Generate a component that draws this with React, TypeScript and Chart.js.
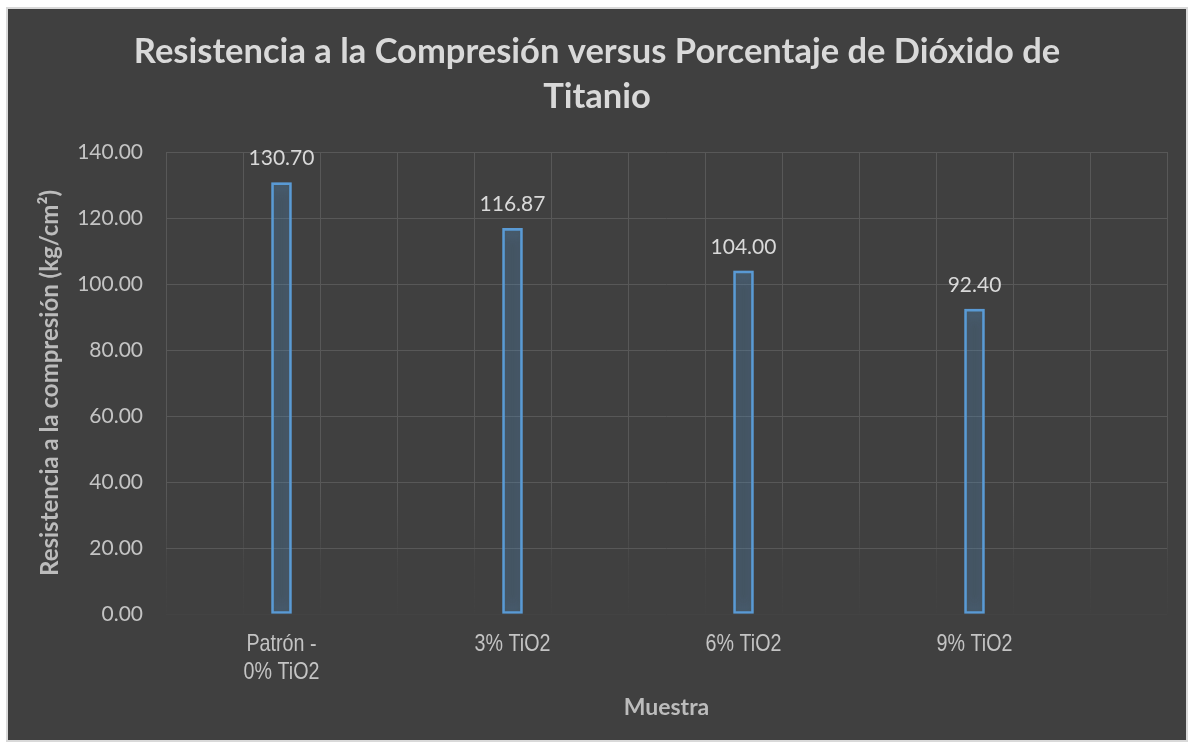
import React, { useEffect, useRef } from 'react';
import { Chart, registerables, Plugin } from 'chart.js';

Chart.register(...registerables);

// Samples on the category axis (multi-line labels are arrays)
const categories: (string | string[])[] = [['Patrón -', '0% TiO2'], '3% TiO2', '6% TiO2', '9% TiO2'];
// Compressive strength, kg/cm²
const values = [130.7, 116.87, 104.0, 92.4];
// Value axis range and step
const yMin = 0;
const yMax = 140;
const yStep = 20;

const titleLines = ['Resistencia a la Compresión versus Porcentaje de Dióxido de', 'Titanio'];
const xTitle = 'Muestra';
const yTitle = 'Resistencia a la compresión (kg/cm²)';

// The horizontal axis is split into 13 narrow slots; each sample sits in every third slot.
const SLOT_COUNT = 13;
const SLOT_FIRST = 1;
const SLOT_STRIDE = 3;

const CANVAS_W = 1178;
const CANVAS_H = 731;

const BAR_BLUE = '#5b9bd5';
const GRID = '#585858';
const TEXT_MAIN = '#d9d9d9';
const TEXT_TICK = '#c4c4c4';
const TEXT_AXIS = '#bcbcbc';
const SANS = 'Lato, "Open Sans", sans-serif';

// Soft blue halo around the bar outlines
const glowPlugin: Plugin<'bar'> = {
  id: 'barGlow',
  beforeDatasetDraw(chart) {
    const ctx = chart.ctx;
    ctx.save();
    ctx.shadowColor = 'rgba(91,155,213,1)';
    ctx.shadowBlur = 14;
  },
  afterDatasetDraw(chart) {
    chart.ctx.restore();
  },
};

// Value printed above each bar
const valueLabelPlugin: Plugin<'bar'> = {
  id: 'valueLabels',
  afterDatasetsDraw(chart) {
    const ctx = chart.ctx;
    const meta = chart.getDatasetMeta(0);
    const ds = chart.data.datasets[0].data as (number | null)[];
    ctx.save();
    ctx.font = `21px ${SANS}`;
    ctx.fillStyle = TEXT_MAIN;
    ctx.textAlign = 'center';
    ctx.textBaseline = 'middle';
    meta.data.forEach((el, i) => {
      const v = ds[i];
      if (v === null || v === undefined) return;
      const { x, y } = el.getProps(['x', 'y'], true) as { x: number; y: number };
      ctx.fillText(v.toFixed(2), x, y - 24);
    });
    ctx.restore();
  },
};

// Category labels in a narrow sans face, placed at the x scale's tick pixels
const narrowTickPlugin: Plugin<'bar'> = {
  id: 'narrowTicks',
  afterDraw(chart) {
    const scale = chart.scales.x;
    const ctx = chart.ctx;
    const labels = chart.data.labels as (string | string[])[];
    ctx.save();
    ctx.font = '24px "Liberation Sans", Arial, sans-serif';
    ctx.fillStyle = TEXT_TICK;
    ctx.textAlign = 'center';
    ctx.textBaseline = 'middle';
    labels.forEach((label, i) => {
      const lines = Array.isArray(label) ? label : [label];
      const x = scale.getPixelForTick(i);
      lines.forEach((line, j) => {
        if (!line) return;
        ctx.save();
        ctx.translate(x, scale.top + 30 + j * 28);
        ctx.scale(0.82, 1);
        ctx.fillText(line, 0, 0);
        ctx.restore();
      });
    });
    ctx.restore();
  },
};

export default function App() {
  const canvasRef = useRef<HTMLCanvasElement>(null);

  useEffect(() => {
    const canvas = canvasRef.current;
    if (!canvas) return;

    const labels: (string | string[])[] = Array.from({ length: SLOT_COUNT }, () => '');
    const data: (number | null)[] = Array.from({ length: SLOT_COUNT }, () => null);
    categories.forEach((c, i) => {
      const slot = SLOT_FIRST + i * SLOT_STRIDE;
      labels[slot] = c;
      data[slot] = values[i];
    });

    // Vertical grid lines fade out towards the baseline
    const fadingGrid = (chart: Chart) => {
      const area = chart.chartArea;
      if (!area) return GRID;
      const g = chart.ctx.createLinearGradient(0, area.top, 0, area.bottom);
      g.addColorStop(0, GRID);
      g.addColorStop(0.74, GRID);
      g.addColorStop(0.9, 'rgba(88,88,88,0.2)');
      g.addColorStop(1, 'rgba(88,88,88,0.05)');
      return g;
    };

    const chart = new Chart(canvas, {
      type: 'bar',
      data: {
        labels,
        datasets: [
          {
            data,
            backgroundColor: 'rgba(91,155,213,0.07)',
            borderColor: BAR_BLUE,
            borderWidth: 2,
            borderSkipped: false,
            barThickness: 20,
          },
        ],
      },
      options: {
        animation: false,
        responsive: false,
        maintainAspectRatio: false,
        layout: { padding: { left: 19, right: 19, top: 0, bottom: 0 } },
        plugins: {
          legend: { display: false },
          tooltip: { enabled: false },
          title: {
            display: true,
            text: titleLines,
            color: TEXT_MAIN,
            font: { family: SANS, size: 34.5, weight: 'bold', lineHeight: 45 / 34.5 },
            padding: { top: 20.5, bottom: 32.5 },
          },
        },
        scales: {
          x: {
            grid: {
              offset: true,
              color: (ctx) => fadingGrid(ctx.chart as Chart),
              lineWidth: 1,
              drawTicks: false,
            },
            border: { display: false },
            ticks: { display: false, autoSkip: false, maxRotation: 0, minRotation: 0 },
            title: {
              display: true,
              text: xTitle,
              color: TEXT_AXIS,
              font: { family: SANS, size: 23, weight: 'bold', lineHeight: 1.2 },
              padding: { top: 0, bottom: 18.2 },
            },
            afterFit: (scale) => {
              scale.height = 126;
            },
          },
          y: {
            min: yMin,
            max: yMax,
            grid: {
              color: (ctx) => (ctx.tick && ctx.tick.value === yMin ? 'rgba(88,88,88,0.12)' : GRID),
              lineWidth: 1,
              drawTicks: false,
            },
            border: { display: false },
            ticks: {
              stepSize: yStep,
              color: TEXT_TICK,
              font: { family: SANS, size: 21 },
              padding: 23,
              callback: (v) => Number(v).toFixed(2),
            },
            title: {
              display: true,
              text: yTitle,
              color: TEXT_AXIS,
              font: { family: SANS, size: 24, weight: 'bold', lineHeight: 1.2 },
              padding: { top: 8.6, bottom: 0 },
            },
            afterFit: (scale) => {
              scale.width = 139;
            },
          },
        },
      },
      plugins: [glowPlugin, valueLabelPlugin, narrowTickPlugin],
    });

    return () => chart.destroy();
  }, []);

  return (
    <div style={{ position: 'fixed', inset: 0, background: '#ffffff' }}>
      <div
        style={{
          position: 'absolute',
          left: 6,
          top: 7,
          width: 1182,
          height: 735,
          boxSizing: 'border-box',
          border: '2px solid #d9d9d9',
          background: '#404040',
        }}
      >
        <canvas
          ref={canvasRef}
          width={CANVAS_W}
          height={CANVAS_H}
          style={{ display: 'block', width: CANVAS_W, height: CANVAS_H }}
        />
      </div>
    </div>
  );
}
